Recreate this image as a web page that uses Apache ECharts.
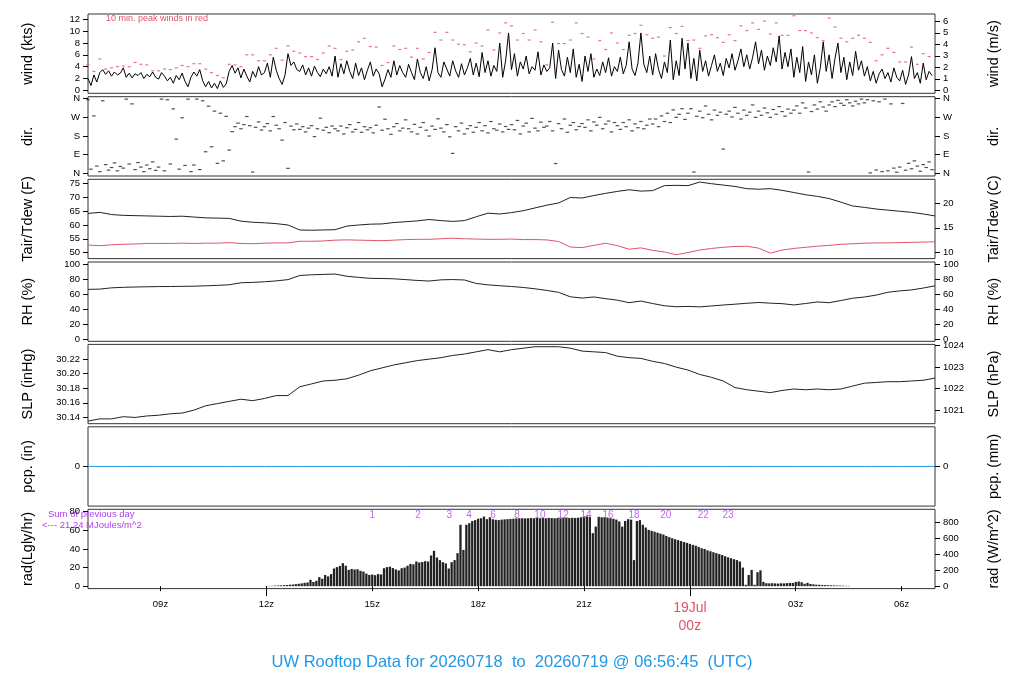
<!DOCTYPE html>
<html><head><meta charset="utf-8">
<script src="https://cdn.jsdelivr.net/npm/echarts@6/dist/echarts.min.js"></script>
<style>html,body{margin:0;padding:0;background:#fff}#c{width:1024px;height:700px}</style>
</head><body><div id="c"></div><script>
// ---- time base (hours since 18 Jul 00z) ----
const T0 = 6 + 56.75/60;           // 06:56:45 UTC
const xTicks = [9,12,15,18,21,24,27,30];

// ---- wind speed, 5-min (kts) ----
const windKts = [
2.0,0.8,2.6,1.4,3.0,3.5,2.7,3.3,2.4,3.1,2.6,2.9,
3.8,2.2,2.9,2.1,2.8,2.5,3.0,2.0,2.7,2.3,3.1,2.2,
1.9,3.0,2.4,1.6,2.2,1.2,2.5,1.8,2.9,1.5,0.6,2.2,
3.1,2.4,3.5,1.6,0.6,1.5,0.4,1.2,0.3,1.6,0.5,1.1,
3.2,4.2,2.9,3.8,2.1,3.6,2.4,1.4,3.2,2.2,4.0,2.6,
3.0,4.6,2.2,5.6,3.4,2.0,1.0,2.6,6.2,4.2,4.8,3.5,
3.2,4.3,2.6,3.8,2.4,4.1,3.0,2.3,3.6,2.8,4.0,2.4,
5.8,2.2,4.5,2.8,5.0,3.2,2.0,4.6,2.5,3.8,1.8,3.4,
4.8,2.4,3.6,2.8,0.6,1.9,3.5,2.2,5.0,2.6,4.2,3.0,
2.2,4.4,3.0,1.8,5.3,3.0,2.0,4.0,1.6,3.5,7.2,3.0,
2.2,4.8,3.6,2.4,5.0,3.3,2.2,4.5,2.6,3.8,5.4,2.6,
4.6,2.3,6.4,3.0,5.0,2.4,4.2,3.2,8.0,2.2,5.0,9.7,
3.5,6.2,2.4,4.8,3.6,5.8,2.8,4.0,3.4,6.5,2.6,4.3,
3.2,3.8,8.0,2.0,6.8,3.5,2.4,5.6,3.0,7.0,2.2,4.4,
1.5,5.8,3.2,6.2,2.2,3.6,2.5,4.8,3.0,5.5,2.4,4.0,
3.2,5.6,2.8,4.2,8.2,3.6,2.5,4.6,9.7,4.4,3.0,5.8,
2.6,6.2,3.5,2.0,4.8,3.0,8.5,1.8,5.0,2.5,8.8,3.6,
8.0,2.0,5.4,1.6,6.8,3.2,5.0,2.4,4.2,6.0,3.2,4.6,
2.5,5.4,3.8,6.2,3.4,5.0,7.0,4.0,6.0,3.6,5.6,8.2,
4.5,6.8,3.4,5.8,4.2,7.2,4.8,9.2,3.6,6.4,4.0,7.0,
2.2,5.6,3.0,7.4,1.5,4.8,2.6,6.0,1.2,3.8,8.2,3.2,
6.0,2.0,5.4,8.0,3.0,5.6,1.8,4.8,2.5,6.6,3.4,5.0,
2.4,4.0,1.6,3.2,1.2,2.8,3.6,2.0,3.0,1.4,3.8,2.2,
1.6,3.4,1.0,2.6,5.7,2.0,3.0,1.2,4.6,1.8,3.2,2.5];

// ---- 10-min peak wind (kts) ----
const peakKts = [
4.3,3.2,5.3,3.6,3.8,4.0,4.1,4.0,4.7,4.4,4.3,3.3,
3.3,3.6,3.5,3.8,4.2,4.0,4.5,4.5,3.6,3.0,2.5,2.1,
4.4,4.3,4.0,6.0,6.0,5.0,5.0,6.0,7.1,5.1,7.5,6.6,
6.3,5.7,5.7,5.2,6.3,7.5,7.1,5.2,6.6,6.8,8.2,8.8,
7.4,7.3,4.2,4.7,7.5,6.9,7.1,5.6,7.1,5.3,6.4,9.8,
8.5,9.8,8.5,7.8,7.7,6.5,8.0,7.5,10.2,6.8,9.7,11.4,
10.9,8.5,9.6,8.5,10.2,8.2,4.3,11.5,7.9,7.9,8.5,11.4,
9.6,9.0,5.3,8.4,6.9,9.7,8.0,6.9,9.3,9.6,11.0,9.4,
8.8,9.0,5.8,10.6,9.6,10.8,8.4,8.5,7.1,9.2,9.4,8.9,
8.1,9.4,8.4,10.9,10.1,11.4,10.3,11.7,9.5,11.4,9.3,9.3,
12.6,10.1,10.1,9.7,8.9,8.4,12.2,10.7,8.8,8.2,8.8,9.3,
8.8,8.1,5.0,6.0,7.1,6.4,4.8,4.8,7.3,4.4,6.2,5.7];

// ---- wind direction, 5-min (deg) ----
const dirDeg = [
355,20,277,35,8,350,42,15,28,50,12,33,
25,358,45,335,18,52,30,8,40,22,55,14,
30,358,12,355,45,311,165,20,268,38,358,8,
40,358,18,350,104,324,128,300,48,290,60,275,
112,201,225,242,215,235,274,230,6,222,248,209,
225,240,205,274,232,215,160,245,24,228,210,238,
212,225,200,218,230,177,215,266,208,222,196,228,
215,205,228,190,220,235,200,212,245,198,225,210,
220,195,232,320,208,261,215,188,225,240,205,218,
258,215,200,236,190,222,245,208,180,228,212,263,
218,200,235,176,96,225,205,242,190,215,230,198,
222,245,205,230,195,250,215,208,238,200,226,212,
235,210,255,190,228,242,200,265,218,205,247,222,
228,250,205,47,240,215,262,198,232,245,210,226,
240,222,258,205,248,232,270,215,238,252,200,245,
230,212,245,225,258,205,238,220,250,215,232,262,
238,262,225,277,250,290,245,306,270,285,312,260,
290,312,6,275,300,268,325,285,258,305,280,295,
117,285,300,272,318,290,262,305,280,295,330,270,
300,280,315,292,270,308,285,322,298,276,310,290,
305,325,290,340,315,6,298,330,310,345,320,300,
330,345,322,352,338,328,355,340,325,348,335,358,
340,355,2,350,16,345,8,358,12,335,25,5,
30,337,15,48,22,60,35,10,42,28,55,18];

// ---- 20-min met series ----
const tairF = [64.2,64.6,63.8,63.5,63.4,63.3,63.2,63.1,63.2,62.9,62.6,62.5,62.4,61.4,61.0,60.8,60.5,60.0,58.2,58.1,58.2,58.3,59.6,60.0,60.3,60.4,60.9,61.2,61.5,62.0,61.6,61.3,61.6,63.0,64.3,64.0,64.5,65.2,66.2,67.2,68.0,70.0,69.8,70.7,71.5,72.2,72.8,72.3,72.5,74.3,74.4,74.3,75.6,75.0,74.5,74.0,73.2,73.0,73.2,72.6,71.8,71.0,70.4,69.6,68.3,66.9,66.4,65.8,65.4,65.0,64.6,64.0,63.3];
const tdewF = [52.7,52.5,52.8,53.0,53.1,53.3,53.3,53.3,53.4,53.3,53.4,53.4,53.6,53.3,53.2,53.4,53.5,53.5,54.1,54.1,54.2,54.5,54.6,54.5,54.4,54.3,54.5,54.7,54.8,54.8,55.0,55.2,55.0,54.9,54.8,54.8,54.9,54.7,54.7,54.6,54.0,52.0,51.8,52.6,53.4,52.5,51.2,51.7,50.8,50.2,49.2,50.0,50.9,51.5,51.9,52.2,52.3,51.6,49.8,50.9,51.5,51.9,52.3,52.6,53.0,53.2,53.4,53.5,53.5,53.6,53.7,53.8,53.9];
const rhPct = [66.4,66.8,68.5,69.2,69.6,69.9,70.2,70.3,70.5,70.7,71.2,71.8,72.6,75.3,75.8,76.6,77.8,79.5,85.0,86.0,86.5,87.0,84.0,82.5,81.2,81.0,80.6,79.5,78.4,77.6,79.2,79.6,79.0,74.4,72.5,71.3,70.3,69.0,67.2,65.0,62.5,56.5,54.8,56.3,54.0,52.0,48.6,50.8,47.5,44.5,43.2,43.6,43.0,44.2,45.5,46.6,47.8,48.9,48.0,47.3,45.6,47.5,49.6,48.6,51.5,54.6,56.2,58.8,62.6,64.4,65.7,68.2,71.2];
const slpInHg = [30.135,30.138,30.138,30.141,30.140,30.142,30.143,30.145,30.146,30.150,30.156,30.159,30.162,30.165,30.163,30.166,30.170,30.170,30.182,30.186,30.190,30.191,30.193,30.198,30.204,30.208,30.212,30.215,30.218,30.220,30.222,30.225,30.227,30.230,30.233,30.230,30.233,30.235,30.237,30.237,30.237,30.235,30.231,30.230,30.229,30.224,30.222,30.221,30.217,30.214,30.209,30.205,30.199,30.195,30.190,30.181,30.178,30.176,30.174,30.177,30.179,30.178,30.179,30.178,30.179,30.183,30.187,30.188,30.189,30.189,30.190,30.191,30.194];
// ---- hourly precipitation (in) ----
const pcpIn = [0,0,0,0,0,0,0,0,0,0,0,0,0,0,0,0,0,0,0,0,0,0,0,0,0];

// ---- solar radiation, 5-min from 12z (Langley/hr) ----
const radStart = 12;
const radLy = [
0.2,0.3,0.4,0.6,0.7,0.9,1.1,1.3,1.6,1.8,2.2,2.6,
3.0,3.6,4.0,6.8,4.5,5.8,9.7,8.0,12,10.5,13,19,
20.5,21.8,24.7,22,17.5,18.5,17.9,18.2,16.5,15.7,13.5,12.1,
12.5,11.8,13,12.6,19.3,20.5,21,19.5,18,17,19.3,20,
22,24,23.5,26.5,25.5,26,26.9,26.5,33,38,30.8,28,
25.8,24.5,19,25.8,28,35.5,66,39,66,67.7,70,71,
72.5,73,74.8,72,74,72,71.3,71,71.5,71.8,72,72.3,
72.5,72.8,73,73,72.8,73,73.2,73,73.3,73,73.2,73,
73.4,73.2,73,73.3,73,73.5,73.3,73.2,73.5,73.3,73.6,74,
75,75,74.5,57,64,74.5,74,74.2,73.5,73,72.5,71.5,
69.5,64,70,72,71.5,28,70,71,66,63,60.5,59.5,
58.5,57.5,56.5,55.5,54,52.7,51.5,50.5,49.5,48.5,47.5,46.5,
45.5,44.4,43.5,42.2,40.8,40,38.5,37.5,36.5,35.5,34.5,33.5,
32.2,31,30,29,28,26.5,20,1.5,12,17.5,1.5,15,
17,4.6,3.2,3.0,3.2,3.0,2.8,3.1,3.0,3.3,3.5,3.4,
4.6,5.0,4.2,2.6,3.6,2.4,2.0,1.6,1.5,1.3,1.2,1.0,
0.9,0.8,0.7,0.6,0.5,0.4,0.3];
// cumulative MJ/m^2 marks
const cumTimes  = [15.0,16.30,17.18,17.74,18.42,19.10,19.75,20.41,21.06,21.68,22.42,23.32,24.38,25.08];
const cumLabels = ['1','2','3','4','6','8','10','12','14','16','18','20','22','23'];
const cumY = 76.5;

// ---- styling ----
const FONT = '"Liberation Sans", Arial, Helvetica, sans-serif';
const RED = '#DF536B', BLUE = '#2297E6', PURPLE = '#B040F0';
const GL = 88, GW = 847, GH = 79.3;
const tops = [14, 96.7, 179.3, 262, 344.4, 426.8, 509.3];
const KT2MS = 1/1.94384, IN2HPA = 33.8639, LY2W = 11.622;

const grids = tops.map(t => ({left:GL, width:GW, top:t, height:GH, show:true,
  borderColor:'#333', borderWidth:1, backgroundColor:'transparent', containLabel:false, outerBoundsMode:'none'}));

function two(n){return (n<10?'0':'')+n;}
function fmtX(v){ const h = Math.round(v)%24; return Math.round(v)===24 ? '{r|19Jul}\n{r|00z}' : two(h)+'z'; }

const xAxes = tops.map((t,i) => ({
  type:'value', gridIndex:i, position:'bottom', min:T0, max:T0+24,
  axisLine:{show:false}, splitLine:{show:false},
  axisTick: i===6 ? {show:true, customValues:xTicks, length:5, lineStyle:{color:'#000'}} : {show:false},
  axisLabel: i===6 ? {show:true, customValues:xTicks, margin:11, fontSize:9.5, color:'#000', fontFamily:FONT,
     formatter:fmtX, rich:{r:{color:RED, fontSize:14, lineHeight:18, fontFamily:FONT}}} : {show:false}
}));
xAxes.push({type:'value', gridIndex:6, position:'bottom', offset:0, min:T0, max:T0+24, axisLine:{show:false}, splitLine:{show:false},
  axisTick:{show:true, customValues:[12,24], length:10, lineStyle:{color:'#000'}}, axisLabel:{show:false}});

function yA(g, pos, min, max, ticks, name, fmt){
  return {type:'value', gridIndex:g, position:pos, min:min, max:max, name:name,
    nameLocation:'middle', nameGap: pos==='left'?53:51, nameRotate:90,
    nameTextStyle:{fontSize:14.5, color:'#000', fontFamily:FONT},
    axisLine:{show:false}, splitLine:{show:false},
    axisTick:{show:true, customValues:ticks, length:5, lineStyle:{color:'#000'}},
    axisLabel:{show:true, customValues:ticks, margin:8, fontSize:9.5, color:'#000', fontFamily:FONT,
      formatter: fmt || (v => String(Math.round(v*1000)/1000))}};
}
const dirFmt = v => ({0:'N',90:'E',180:'S',270:'W',360:'N'})[Math.round(v)] || '';
const wMin=-0.5, wMax=12.9, tMin=47.8, tMax=76.6, pMin=30.1314, pMax=30.2402, rMin=-2.6, rMax=82.6;
const yAxes = [
  yA(0,'left', wMin, wMax, [0,2,4,6,8,10,12], 'wind (kts)'),
  yA(0,'right', wMin*KT2MS, wMax*KT2MS, [0,1,2,3,4,5,6], 'wind (m/s)'),
  yA(1,'left', -13, 369.7, [0,90,180,270,360], 'dir.', dirFmt),
  yA(1,'right', -13, 369.7, [0,90,180,270,360], 'dir.', dirFmt),
  yA(2,'left', tMin, tMax, [50,55,60,65,70,75], 'Tair/Tdew (F)'),
  yA(2,'right', (tMin-32)/1.8, (tMax-32)/1.8, [10,15,20], 'Tair/Tdew (C)'),
  yA(3,'left', -3.1, 103.1, [0,20,40,60,80,100], 'RH (%)'),
  yA(3,'right', -3.1, 103.1, [0,20,40,60,80,100], 'RH (%)'),
  yA(4,'left', pMin, pMax, [30.14,30.16,30.18,30.20,30.22], 'SLP (inHg)', v => v.toFixed(2)),
  yA(4,'right', pMin*IN2HPA, pMax*IN2HPA, [1021,1022,1023,1024], 'SLP (hPa)'),
  yA(5,'left', -1, 1, [0], 'pcp. (in)'),
  yA(5,'right', -1, 1, [0], 'pcp. (mm)'),
  yA(6,'left', rMin, rMax, [0,20,40,60,80], 'rad(Lgly/hr)'),
  yA(6,'right', rMin*LY2W, rMax*LY2W, [0,200,400,600,800], 'rad (W/m^2)')
];

const at = (arr, start, stepMin) => arr.map((v,i) => [start + i*stepMin/60, v]);
const lineS = (data, xi, yi, color) => ({type:'line', data:data, xAxisIndex:xi, yAxisIndex:yi,
  showSymbol:false, symbol:'none', lineStyle:{color:color, width:1}, silent:true, animation:false});

const series = [
  lineS(at(windKts, T0, 5), 0, 0, '#000'),
  {type:'scatter', data:at(peakKts, T0, 10), xAxisIndex:0, yAxisIndex:0, symbol:'rect', symbolSize:[3,1.2],
    itemStyle:{color:RED}, silent:true},
  {type:'scatter', data:at(dirDeg, T0, 5), xAxisIndex:1, yAxisIndex:2, symbol:'rect', symbolSize:[3.5,1.2],
    itemStyle:{color:'#222'}, silent:true},
  lineS(at(tairF, T0, 20), 2, 4, '#222'),
  lineS(at(tdewF, T0, 20), 2, 4, RED),
  lineS(at(rhPct, T0, 20), 3, 6, '#222'),
  lineS(at(slpInHg, T0, 20), 4, 8, '#222'),
  lineS(at(pcpIn, T0, 60), 5, 10, BLUE),
  {type:'bar', data:at(radLy, radStart, 5), xAxisIndex:6, yAxisIndex:12, barWidth:2.3,
    itemStyle:{color:'#222'}, silent:true},
  {type:'scatter', data:cumTimes.map((t,i)=>[t, cumY, cumLabels[i]]), xAxisIndex:6, yAxisIndex:12,
    symbolSize:0, silent:true,
    label:{show:true, position:'inside', formatter:p=>p.data[2], color:PURPLE, fontSize:10, fontFamily:FONT}}
];

const option = {
  animation:false,
  backgroundColor:'#fff',
  title:{text:'UW Rooftop Data for 20260718  to  20260719 @ 06:56:45  (UTC)', left:'center', top:649,
    textStyle:{color:BLUE, fontSize:16.5, fontWeight:'normal', fontFamily:FONT}},
  grid:grids, xAxis:xAxes, yAxis:yAxes, series:series,
  graphic:[
    {type:'text', left:106, top:14, style:{text:'10 min. peak winds in red', fill:RED, fontSize:9, fontFamily:FONT}},
    {type:'text', left:48, top:509, style:{text:'Sum of previous day', fill:PURPLE, fontSize:9.5, fontFamily:FONT}},
    {type:'text', left:42, top:520, style:{text:'<--- 21.24 MJoules/m^2', fill:PURPLE, fontSize:9.5, fontFamily:FONT}}
  ]
};
const chart = echarts.init(document.getElementById('c'));
chart.setOption(option);
</script></body></html>
